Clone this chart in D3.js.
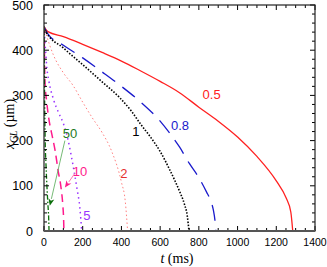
<!DOCTYPE html>
<html>
<head>
<meta charset="utf-8">
<script src="https://cdn.jsdelivr.net/npm/d3@7"></script>
<style>
  body { margin: 0; background: #fff; }
  svg { display: block; }
</style>
</head>
<body>
<svg></svg>
<script>
// data: [t (ms), x_CL (um)]
var curve05 = [[0,452],[20,441],[100,430],[200,413],[300,395],[400,376],[500,354],[600,331],[700,306],[800,274],[900,243],[1000,208],[1100,165],[1200,111],[1250,74],[1275,42],[1285,0]]
var curve08 = [[0,452],[20,436],[100,411],[200,383],[300,352],[400,320],[500,285],[600,243],[650,216],[700,186],[750,150],[800,118],[840,86],[860,68],[875,46],[883,24],[888,0]]
var curve1 = [[0,452],[10,441],[100,405],[200,368],[300,330],[393,294],[450,266],[500,236],[550,208],[600,176],[650,135],[700,88],[725,60],[740,34],[749,0]]
var curve2 = [[0,452],[10,437],[50,388],[100,350],[150,322],[200,285],[250,250],[300,218],[350,176],[400,108],[420,65],[432,0]]
var curve5 = [[0,452],[8,400],[15,360],[25,332],[50,290],[75,262],[100,238],[125,200],[150,145],[170,95],[185,52],[195,0]]
var curve10 = [[0,452],[2,400],[5,330],[14,286],[22,257],[45,205],[57,179],[74,131],[86,102],[97,58],[101,30],[103,0]]
var curve50 = [[0,452],[1,400],[3,300],[6,200],[10,150],[15,100],[20,60],[24,30],[26,0]]

var xTicks = [0, 200, 400, 600, 800, 1000, 1200, 1400]
var yTicks = [0, 100, 200, 300, 400, 500]

var W = 327, H = 267
var plotL = 44, plotR = 315, plotT = 5, plotB = 231

var svg = d3.select("svg").attr("width", W).attr("height", H)

var x = d3.scaleLinear().domain([0, 1400]).range([plotL, plotR])
var y = d3.scaleLinear().domain([0, 500]).range([plotB, plotT])

var line = d3.line()
  .x(function(d) { return x(d[0]) })
  .y(function(d) { return y(d[1]) })
  .curve(d3.curveMonotoneX)

var clip = svg.append("clipPath").attr("id", "plot")
clip.append("rect").attr("x", plotL).attr("y", plotT).attr("width", plotR - plotL).attr("height", plotB - plotT)

var series = [
  {data: curve05, color: "#ff2020", width: 1.3, dash: null},
  {data: curve08, color: "#1a1acc", width: 1.3, dash: "16,9"},
  {data: curve1, color: "#000000", width: 1.6, dash: "1.5,1.6"},
  {data: curve2, color: "#ff8080", width: 1, dash: "1.5,2.5"},
  {data: curve5, color: "#9933ff", width: 1.5, dash: "1.5,3.5"},
  {data: curve10, color: "#ff1a8c", width: 1.5, dash: "8,5"},
  {data: curve50, color: "#0a6e0a", width: 1.3, dash: "5,2,1.5,2"}
]

var g = svg.append("g").attr("clip-path", "url(#plot)")
series.forEach(function(s) {
  g.append("path")
    .attr("d", line(s.data))
    .attr("fill", "none")
    .attr("stroke", s.color)
    .attr("stroke-width", s.width)
    .attr("stroke-dasharray", s.dash)
})

// ticks (inward, all four sides)
var xMinor = d3.range(0, 1401, 50)
var yMinor = d3.range(0, 501, 20)
xMinor.forEach(function(v) {
  var len = v % 200 == 0 ? 5 : 3
  svg.append("line").attr("x1", x(v)).attr("x2", x(v)).attr("y1", plotB).attr("y2", plotB - len).attr("stroke", "#000")
  svg.append("line").attr("x1", x(v)).attr("x2", x(v)).attr("y1", plotT).attr("y2", plotT + len).attr("stroke", "#000")
})
yMinor.forEach(function(v) {
  var len = v % 100 == 0 ? 5 : 3
  svg.append("line").attr("x1", plotL).attr("x2", plotL + len).attr("y1", y(v)).attr("y2", y(v)).attr("stroke", "#000")
  svg.append("line").attr("x1", plotR).attr("x2", plotR - len).attr("y1", y(v)).attr("y2", y(v)).attr("stroke", "#000")
})

svg.append("rect")
  .attr("x", plotL).attr("y", plotT)
  .attr("width", plotR - plotL).attr("height", plotB - plotT)
  .attr("fill", "none").attr("stroke", "#222").attr("stroke-width", 1.2)
svg.append("line").attr("x1", plotL).attr("x2", plotR).attr("y1", plotB).attr("y2", plotB)
  .attr("stroke", "#555").attr("stroke-width", 2)

var font = "Liberation Sans, Arial, sans-serif"
svg.selectAll(".xt").data(xTicks).enter().append("text")
  .attr("x", function(d) { return x(d) })
  .attr("y", 246)
  .attr("text-anchor", "middle")
  .attr("font-family", font).attr("font-size", 10.5)
  .text(function(d) { return d })
svg.selectAll(".yt").data(yTicks).enter().append("text")
  .attr("x", 33)
  .attr("y", function(d) { return y(d) + 4.5 })
  .attr("text-anchor", "end")
  .attr("font-family", font).attr("font-size", 12.5)
  .text(function(d) { return d })

// axis titles
var xt = svg.append("text").attr("x", 177).attr("y", 263)
  .attr("text-anchor", "middle")
  .attr("font-family", "Liberation Serif, Times New Roman, serif").attr("font-size", 14)
xt.append("tspan").attr("font-style", "italic").text("t")
xt.append("tspan").text(" (ms)")

var yt = svg.append("text")
  .attr("transform", "translate(14,124) rotate(-90)")
  .attr("text-anchor", "middle")
  .attr("font-family", "Liberation Serif, Times New Roman, serif").attr("font-size", 14)
yt.append("tspan").attr("font-style", "italic").text("x")
yt.append("tspan").attr("font-style", "italic").attr("font-size", 10).attr("dy", 3).text("CL")
yt.append("tspan").attr("dy", -3).text(" (\u00b5m)")

// curve labels
var labels = [
  {text: "0.5", t: 866, v: 302, color: "#ff2020"},
  {text: "0.8", t: 703, v: 234, color: "#1a1acc"},
  {text: "1", t: 475, v: 221, color: "#000"},
  {text: "2", t: 413, v: 128, color: "#e53030"},
  {text: "5", t: 222, v: 35, color: "#9933ff"},
  {text: "10", t: 186, v: 132, color: "#ff1a8c"},
  {text: "50", t: 134, v: 216, color: "#1e7a1e"}
]
svg.selectAll(".lab").data(labels).enter().append("text")
  .attr("x", function(d) { return x(d.t) })
  .attr("y", function(d) { return y(d.v) + 5 })
  .attr("text-anchor", "middle")
  .attr("font-family", font).attr("font-size", 13)
  .attr("fill", function(d) { return d.color })
  .text(function(d) { return d.text })

// arrows
var arrows = [
  {t1: 108, v1: 200, t2: 30, v2: 56, line: "#66b266", head: "#0a6e0a"},
  {t1: 160, v1: 128, t2: 108, v2: 96, line: "#ff66aa", head: "#ff1a8c"}
]
arrows.forEach(function(a) {
  var x1 = x(a.t1), y1 = y(a.v1), x2 = x(a.t2), y2 = y(a.v2)
  var ang = Math.atan2(y2 - y1, x2 - x1)
  var hl = 7, hw = 3
  var bx = x2 - hl * Math.cos(ang), by = y2 - hl * Math.sin(ang)
  svg.append("line").attr("x1", x1).attr("y1", y1).attr("x2", bx).attr("y2", by)
    .attr("stroke", a.line).attr("stroke-width", 0.9)
  var p = [
    [x2, y2],
    [bx + hw * Math.sin(ang), by - hw * Math.cos(ang)],
    [bx + 2 * Math.cos(ang), by + 2 * Math.sin(ang)],
    [bx - hw * Math.sin(ang), by + hw * Math.cos(ang)]
  ]
  svg.append("path").attr("d", "M" + p.join("L") + "Z").attr("fill", a.head)
})
</script>
</body>
</html>
